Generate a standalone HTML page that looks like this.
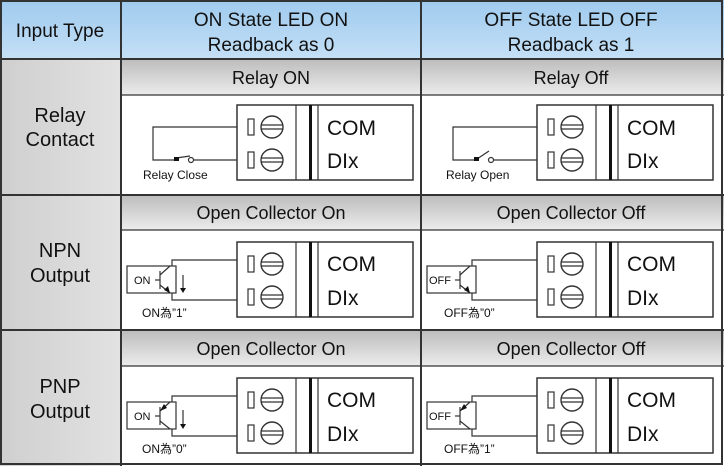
<!DOCTYPE html>
<html><head><meta charset="utf-8"><style>
html,body{margin:0;padding:0;background:#fff}
svg{display:block}
text{font-family:"Liberation Sans","Noto Sans CJK TC",sans-serif;fill:#111}
</style></head><body>
<svg width="724" height="466" viewBox="0 0 724 466" xmlns="http://www.w3.org/2000/svg">
<defs>
<linearGradient id="blue" x1="0" y1="0" x2="0" y2="1"><stop offset="0" stop-color="#9fcaee"/><stop offset="1" stop-color="#c4e0f6"/></linearGradient>
<linearGradient id="sub" x1="0" y1="0" x2="0" y2="1"><stop offset="0" stop-color="#bcbcbc"/><stop offset="1" stop-color="#ececec"/></linearGradient>
<linearGradient id="left" x1="0" y1="0" x2="1" y2="0"><stop offset="0" stop-color="#cfcfcf"/><stop offset="1" stop-color="#e2e2e2"/></linearGradient>
<g id="blk">
<rect x="237" y="105" width="176" height="75" fill="#fff" stroke="#333" stroke-width="1.5"/>
<line x1="296" y1="105" x2="296" y2="180" stroke="#333" stroke-width="1.2"/>
<line x1="310.5" y1="105" x2="310.5" y2="180" stroke="#111" stroke-width="3"/>
<line x1="318" y1="105" x2="318" y2="180" stroke="#333" stroke-width="1.2"/>
<rect x="248" y="119" width="6" height="16" fill="#fff" stroke="#333" stroke-width="1.2"/>
<circle cx="272" cy="127" r="11" fill="#fff" stroke="#333" stroke-width="1.4"/>
<line x1="261" y1="125" x2="283" y2="125" stroke="#333" stroke-width="1.2"/>
<line x1="261" y1="129" x2="283" y2="129" stroke="#333" stroke-width="1.2"/>
<rect x="248" y="152" width="6" height="16" fill="#fff" stroke="#333" stroke-width="1.2"/>
<circle cx="272" cy="160" r="11" fill="#fff" stroke="#333" stroke-width="1.4"/>
<line x1="261" y1="158" x2="283" y2="158" stroke="#333" stroke-width="1.2"/>
<line x1="261" y1="162" x2="283" y2="162" stroke="#333" stroke-width="1.2"/>
</g>
</defs>
<rect x="0" y="0" width="724" height="59" fill="url(#blue)"/>
<rect x="0" y="59" width="121" height="407" fill="url(#left)"/>
<rect x="121" y="59" width="603" height="36" fill="url(#sub)"/>
<rect x="121" y="195" width="603" height="35" fill="url(#sub)"/>
<rect x="121" y="330" width="603" height="36" fill="url(#sub)"/>
<g stroke="#333" stroke-width="2" fill="none">
<rect x="1" y="1" width="721" height="463"/>
<line x1="121" y1="0" x2="121" y2="466"/>
<line x1="421" y1="0" x2="421" y2="466"/>
<line x1="0" y1="59" x2="724" y2="59"/>
<line x1="0" y1="195" x2="724" y2="195"/>
<line x1="0" y1="330" x2="724" y2="330"/>
</g>
<g stroke="#333" stroke-width="1.2">
<line x1="121" y1="95" x2="724" y2="95"/>
<line x1="121" y1="230" x2="724" y2="230"/>
<line x1="121" y1="366" x2="724" y2="366"/>
</g>
<g font-size="19" text-anchor="middle">
<text x="60" y="37">Input Type</text>
<text x="271" y="26">ON State LED ON</text>
<text x="271" y="51">Readback as 0</text>
<text x="571" y="26">OFF State LED OFF</text>
<text x="571" y="51">Readback as 1</text>
<text x="271" y="84" font-size="18">Relay ON</text>
<text x="571" y="84" font-size="18">Relay Off</text>
<text x="271" y="219" font-size="18">Open Collector On</text>
<text x="571" y="219" font-size="18">Open Collector Off</text>
<text x="271" y="355" font-size="18">Open Collector On</text>
<text x="571" y="355" font-size="18">Open Collector Off</text>
<text x="60" y="122" font-size="20">Relay</text>
<text x="60" y="146" font-size="20">Contact</text>
<text x="60" y="257" font-size="20">NPN</text>
<text x="60" y="282" font-size="20">Output</text>
<text x="60" y="393" font-size="20">PNP</text>
<text x="60" y="418" font-size="20">Output</text>
</g>
<use href="#blk"/><use href="#blk" x="300"/>
<use href="#blk" y="137"/><use href="#blk" x="300" y="137"/>
<use href="#blk" y="273"/><use href="#blk" x="300" y="273"/>
<g font-size="21">
<text x="327" y="135">COM</text><text x="327" y="168">DIx</text>
<text x="627" y="135">COM</text><text x="627" y="168">DIx</text>
<text x="327" y="271">COM</text><text x="327" y="305">DIx</text>
<text x="627" y="271">COM</text><text x="627" y="305">DIx</text>
<text x="327" y="407">COM</text><text x="327" y="441">DIx</text>
<text x="627" y="407">COM</text><text x="627" y="441">DIx</text>
</g>
<g stroke="#333" stroke-width="1.2" fill="none">
<polyline points="237,127 153,127 153,160 174,160"/>
<line x1="193" y1="160" x2="237" y2="160"/>
<line x1="176" y1="158" x2="190" y2="156"/>
<circle cx="191" cy="160" r="2.5" fill="#fff"/>
<polyline points="537,127 453,127 453,160 474,160"/>
<line x1="493" y1="160" x2="537" y2="160"/>
<line x1="477" y1="159" x2="489" y2="151"/>
<circle cx="491" cy="160" r="2.5" fill="#fff"/>
</g>
<rect x="174" y="157" width="5" height="4" fill="#111"/>
<rect x="474" y="157" width="5" height="4" fill="#111"/>
<g font-size="12"><text x="143" y="179">Relay Close</text><text x="446" y="179">Relay Open</text></g>
<g stroke="#333" stroke-width="1.2" fill="none">
<rect x="127" y="266" width="49" height="27"/>
<polyline points="237,260 172,260 172,266"/><polyline points="237,300 172,300 172,293"/>
<line x1="160" y1="271" x2="160" y2="289"/><line x1="155" y1="280" x2="160" y2="280"/>
<line x1="160" y1="275" x2="170" y2="266"/><line x1="160" y1="285" x2="170" y2="293"/>
<line x1="183" y1="275" x2="183" y2="290"/>
<rect x="427" y="266" width="49" height="27"/>
<polyline points="537,260 472,260 472,266"/><polyline points="537,300 472,300 472,293"/>
<line x1="460" y1="271" x2="460" y2="289"/><line x1="455" y1="280" x2="460" y2="280"/>
<line x1="460" y1="275" x2="470" y2="266"/><line x1="460" y1="285" x2="470" y2="293"/>
</g>
<polygon points="170,293 164,290 168,286" fill="#111"/>
<polygon points="470,293 464,290 468,286" fill="#111"/>
<polygon points="180,288 186,288 183,293" fill="#111"/>
<g stroke="#333" stroke-width="1.2" fill="none">
<rect x="127" y="402" width="49" height="27"/>
<polyline points="237,396 172,396 172,402"/><polyline points="237,436 172,436 172,429"/>
<line x1="160" y1="407" x2="160" y2="425"/><line x1="155" y1="416" x2="160" y2="416"/>
<line x1="160" y1="411" x2="170" y2="402"/><line x1="160" y1="421" x2="170" y2="429"/>
<line x1="183" y1="410" x2="183" y2="426"/>
<rect x="427" y="402" width="49" height="27"/>
<polyline points="537,396 472,396 472,402"/><polyline points="537,436 472,436 472,429"/>
<line x1="460" y1="407" x2="460" y2="425"/><line x1="455" y1="416" x2="460" y2="416"/>
<line x1="460" y1="411" x2="470" y2="402"/><line x1="460" y1="421" x2="470" y2="429"/>
</g>
<polygon points="160,411 167,408 164,404" fill="#111"/>
<polygon points="460,411 467,408 464,404" fill="#111"/>
<polygon points="180,424 186,424 183,429" fill="#111"/>
<g font-size="11">
<text x="134" y="284">ON</text><text x="429" y="284">OFF</text>
<text x="134" y="420">ON</text><text x="429" y="420">OFF</text>
</g>
<g font-size="12">
<text x="142" y="317">ON為”1”</text><text x="444" y="317">OFF為”0”</text>
<text x="142" y="453">ON為”0”</text><text x="444" y="453">OFF為”1”</text>
</g>
</svg>
</body></html>
